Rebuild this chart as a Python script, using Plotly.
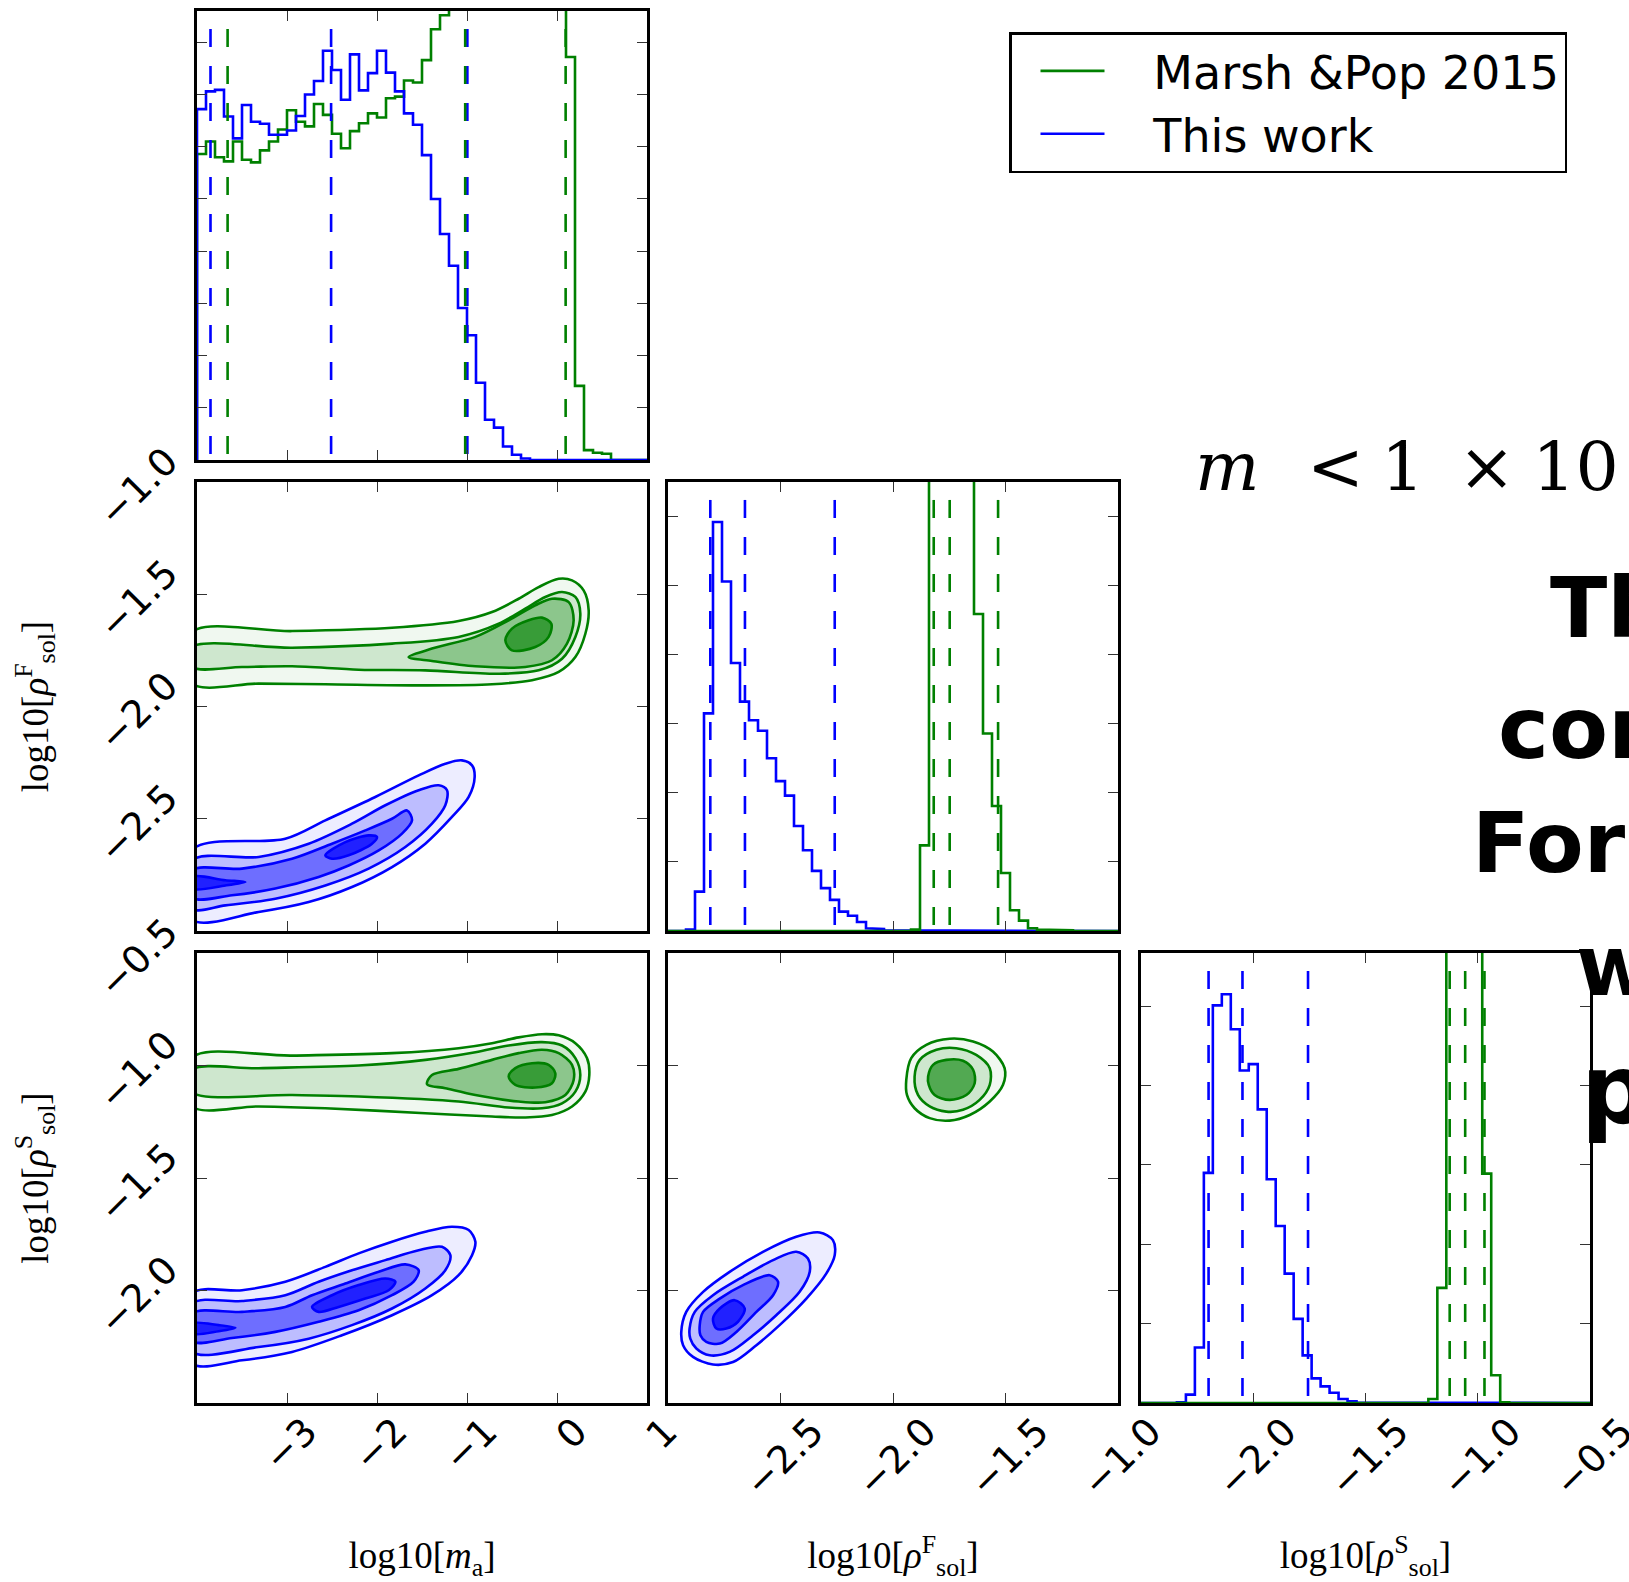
import numpy as np
import plotly.graph_objects as go

GREEN = "#008000"
BLUE = "#0000ff"

# ---------------- 1D marginal histograms (arbitrary count units) ----------------
ma_edges = np.round(np.linspace(-4.0, 1.0, 51), 4)
ma_this_work = [6.72, 7.06, 7.09, 6.58, 6.16, 6.80, 6.48, 6.44, 6.23, 6.23,
                6.31, 6.59, 7.00, 7.26, 7.84, 7.47, 6.90, 7.77, 7.08, 7.41,
                7.84, 7.42, 7.06, 6.64, 6.42, 5.84, 5.00, 4.33, 3.72, 2.91,
                2.39, 1.48, 0.77, 0.62, 0.26, 0.10, 0.03, 0, 0, 0,
                0, 0, 0, 0, 0, 0, 0, 0, 0, 0]
ma_marsh_pop = [5.86, 6.10, 5.80, 5.72, 6.10, 5.75, 5.70, 5.93, 6.10, 6.33,
                6.70, 6.48, 6.39, 6.82, 6.61, 6.25, 5.97, 6.30, 6.45, 6.64,
                6.56, 6.93, 6.96, 7.27, 7.23, 7.66, 8.25, 8.52, 9.2, 10.0,
                10.8, 11.5, 12.2, 12.8, 13.3, 13.7, 14.0, 14.1, 13.9, 13.4,
                12.6, 7.72, 1.42, 0.19, 0.14, 0.12, 0, 0, 0, 0]

rf_edges = np.round(np.linspace(-3.0, -1.0, 51), 4)
rf_this_work = [0, 0, 0.02, 0.57, 3.15, 5.92, 5.06, 3.88, 3.32, 3.05,
                2.90, 2.50, 2.17, 1.96, 1.52, 1.17, 0.87, 0.62, 0.45, 0.28,
                0.22, 0.13, 0.04, 0.03, 0.01, 0.005, 0, 0, 0, 0,
                0, 0, 0, 0, 0, 0, 0, 0, 0, 0,
                0, 0, 0, 0, 0, 0, 0, 0, 0, 0]
rf_marsh_pop = [0, 0, 0, 0, 0, 0, 0, 0, 0, 0,
                0, 0, 0, 0, 0, 0, 0, 0, 0, 0,
                0, 0, 0, 0, 0, 0, 0, 0.02, 1.24, 8.5,
                12.5, 14.0, 12.0, 8.8, 4.59, 2.86, 1.81, 0.84, 0.30, 0.15,
                0.04, 0.02, 0.02, 0.015, 0.01, 0, 0, 0, 0, 0]

rs_edges = np.round(np.linspace(-2.5, -0.5, 51), 4)
rs_this_work = [0, 0, 0, 0, 0.01, 0.105, 0.70, 2.90, 5.01, 5.15,
                4.71, 4.19, 4.27, 3.70, 2.82, 2.23, 1.63, 1.06, 0.60, 0.31,
                0.21, 0.13, 0.05, 0.02, 0.005, 0, 0, 0, 0, 0,
                0, 0, 0, 0, 0, 0, 0, 0, 0, 0,
                0, 0, 0, 0, 0, 0, 0, 0, 0, 0]
rs_marsh_pop = [0, 0, 0, 0, 0, 0, 0, 0, 0, 0,
                0, 0, 0, 0, 0, 0, 0, 0, 0, 0,
                0, 0, 0, 0, 0, 0, 0, 0, 0, 0,
                0, 0, 0.05, 1.45, 9.0, 15.0, 15.5, 9.5, 2.89, 0.35,
                0.01, 0, 0, 0, 0, 0, 0, 0, 0, 0]

# quantile markers (dashed lines)
ma_q_this = [-3.85, -2.51, -0.996]
ma_q_marsh = [-3.66, -1.02, 0.096]
rf_q_this = [-2.812, -2.658, -2.259]
rf_q_marsh = [-1.819, -1.748, -1.533]
rs_q_this = [-2.199, -2.048, -1.756]
rs_q_marsh = [-1.125, -1.056, -0.970]

# ---------------- 2D credible contours ----------------
# panel m_a vs rho_F
ma_rf_marsh_x = [
    [-4.05, -2.944, -1.833, -1.093, -0.722, -0.426, -0.204, 0.019, 0.167, 0.296, 0.352, 0.315, 0.204, 0.019, -0.278, -0.722, -1.463, -2.574, -3.315, -4.05],
    [-4.05, -2.944, -1.833, -1.093, -0.648, -0.352, -0.130, 0.056, 0.204, 0.259, 0.204, 0.056, -0.204, -0.648, -1.463, -2.204, -2.944, -3.5, -4.05],
    [-1.648, -1.389, -0.907, -0.537, -0.241, -0.056, 0.130, 0.185, 0.111, -0.056, -0.352, -0.907, -1.389],
    [-0.574, -0.5, -0.315, -0.167, -0.063, -0.093, -0.241, -0.5],
]
ma_rf_marsh_y = [
    [-1.668, -1.664, -1.649, -1.619, -1.579, -1.520, -1.468, -1.431, -1.438, -1.483, -1.572, -1.676, -1.780, -1.846, -1.883, -1.901, -1.906, -1.901, -1.898, -1.898],
    [-1.735, -1.738, -1.720, -1.690, -1.631, -1.564, -1.512, -1.490, -1.512, -1.586, -1.690, -1.787, -1.839, -1.854, -1.839, -1.836, -1.821, -1.824, -1.824],
    [-1.780, -1.742, -1.690, -1.616, -1.549, -1.520, -1.535, -1.616, -1.720, -1.794, -1.824, -1.821, -1.797],
    [-1.705, -1.653, -1.616, -1.604, -1.631, -1.690, -1.735, -1.750],
]
ma_rf_this_x = [
    [-4.05, -3.019, -2.574, -2.019, -1.537, -1.241, -1.056, -0.944, -0.915, -0.981, -1.167, -1.463, -1.833, -2.278, -2.759, -3.315, -4.05],
    [-4.05, -3.315, -2.759, -2.278, -1.907, -1.537, -1.315, -1.222, -1.241, -1.389, -1.685, -2.093, -2.574, -3.130, -3.685, -4.05],
    [-4.05, -3.5, -2.944, -2.5, -2.130, -1.833, -1.667, -1.611, -1.722, -1.981, -2.315, -2.648, -3.130, -3.611, -4.05],
    [-2.574, -2.352, -2.093, -2.0, -2.056, -2.315, -2.5],
    [-4.05, -3.685, -3.463, -3.685, -4.05],
]
ma_rf_this_y = [
    [-2.638, -2.589, -2.507, -2.403, -2.307, -2.255, -2.240, -2.262, -2.314, -2.403, -2.492, -2.611, -2.715, -2.804, -2.871, -2.915, -2.950],
    [-2.685, -2.670, -2.611, -2.522, -2.440, -2.373, -2.351, -2.373, -2.440, -2.522, -2.626, -2.722, -2.797, -2.856, -2.886, -2.901],
    [-2.730, -2.722, -2.678, -2.611, -2.552, -2.500, -2.463, -2.507, -2.566, -2.641, -2.708, -2.759, -2.811, -2.841, -2.852],
    [-2.663, -2.604, -2.574, -2.581, -2.611, -2.663, -2.678],
    [-2.759, -2.774, -2.782, -2.797, -2.811],
]

# panel m_a vs rho_S
ma_rs_marsh_x = [
    [-4.05, -2.944, -1.833, -1.093, -0.722, -0.426, -0.167, 0.019, 0.204, 0.333, 0.359, 0.315, 0.167, -0.056, -0.352, -0.722, -1.463, -2.574, -3.315, -4.05],
    [-4.05, -3.315, -2.204, -1.463, -0.907, -0.537, -0.167, 0.056, 0.204, 0.259, 0.204, 0.056, -0.167, -0.537, -1.093, -2.204, -2.944, -4.05],
    [-1.444, -1.389, -1.093, -0.722, -0.426, -0.167, 0.019, 0.167, 0.185, 0.093, -0.130, -0.426, -0.907, -1.241],
    [-0.537, -0.463, -0.278, -0.093, -0.019, -0.056, -0.241, -0.463],
]
ma_rs_marsh_y = [
    [-0.964, -0.956, -0.945, -0.923, -0.901, -0.875, -0.861, -0.866, -0.901, -0.967, -1.042, -1.116, -1.182, -1.220, -1.231, -1.227, -1.212, -1.190, -1.182, -1.182],
    [-1.019, -1.012, -1.0, -0.975, -0.941, -0.911, -0.896, -0.911, -0.967, -1.042, -1.116, -1.168, -1.190, -1.187, -1.160, -1.138, -1.131, -1.119],
    [-1.083, -1.042, -1.015, -0.975, -0.945, -0.930, -0.945, -0.997, -1.064, -1.131, -1.163, -1.160, -1.131, -1.101],
    [-1.049, -1.012, -0.990, -0.997, -1.034, -1.079, -1.098, -1.086],
]
ma_rs_this_x = [
    [-4.05, -3.5, -3.019, -2.574, -2.204, -1.833, -1.463, -1.167, -0.981, -0.907, -0.944, -1.093, -1.389, -1.833, -2.389, -2.944, -3.5, -4.05],
    [-4.05, -3.5, -3.019, -2.648, -2.278, -1.907, -1.537, -1.278, -1.185, -1.241, -1.463, -1.833, -2.278, -2.759, -3.315, -4.05],
    [-4.05, -3.5, -3.019, -2.722, -2.352, -1.981, -1.685, -1.537, -1.593, -1.833, -2.204, -2.648, -3.130, -3.611, -4.05],
    [-2.722, -2.5, -2.204, -1.907, -1.796, -1.870, -2.130, -2.426, -2.648],
    [-4.05, -3.759, -3.574, -3.759, -4.05],
]
ma_rs_this_y = [
    [-2.013, -1.999, -1.961, -1.895, -1.835, -1.783, -1.739, -1.717, -1.731, -1.783, -1.843, -1.932, -2.021, -2.110, -2.199, -2.273, -2.310, -2.325],
    [-2.058, -2.047, -2.021, -1.961, -1.910, -1.865, -1.821, -1.806, -1.843, -1.910, -1.991, -2.080, -2.154, -2.214, -2.251, -2.273],
    [-2.102, -2.095, -2.073, -2.021, -1.969, -1.917, -1.884, -1.910, -1.961, -2.021, -2.088, -2.139, -2.184, -2.211, -2.226],
    [-2.073, -2.021, -1.976, -1.947, -1.961, -1.999, -2.036, -2.073, -2.095],
    [-2.147, -2.154, -2.166, -2.181, -2.191],
]

# panel rho_F vs rho_S
rf_rs_marsh_x = [
    [-1.941, -1.919, -1.852, -1.748, -1.644, -1.556, -1.504, -1.511, -1.570, -1.659, -1.748, -1.837, -1.904, -1.938],
    [-1.904, -1.881, -1.807, -1.719, -1.630, -1.570, -1.570, -1.615, -1.689, -1.763, -1.837, -1.889],
    [-1.844, -1.822, -1.763, -1.689, -1.644, -1.637, -1.674, -1.748, -1.815, -1.841],
]
rf_rs_marsh_y = [
    [-1.064, -0.967, -0.908, -0.881, -0.893, -0.938, -1.012, -1.086, -1.160, -1.220, -1.245, -1.234, -1.190, -1.131],
    [-1.049, -0.975, -0.930, -0.923, -0.953, -1.012, -1.086, -1.153, -1.197, -1.205, -1.182, -1.131],
    [-1.049, -0.997, -0.975, -0.979, -1.019, -1.079, -1.131, -1.153, -1.131, -1.086],
]
rf_rs_this_x = [
    [-2.941, -2.919, -2.844, -2.726, -2.578, -2.430, -2.326, -2.267, -2.259, -2.296, -2.385, -2.504, -2.607, -2.711, -2.8, -2.889, -2.933],
    [-2.904, -2.881, -2.8, -2.667, -2.533, -2.430, -2.378, -2.370, -2.415, -2.519, -2.622, -2.726, -2.815, -2.874, -2.901],
    [-2.859, -2.844, -2.770, -2.667, -2.548, -2.511, -2.533, -2.607, -2.696, -2.770, -2.830, -2.856],
    [-2.8, -2.770, -2.704, -2.659, -2.689, -2.741, -2.785],
]
rf_rs_this_y = [
    [-2.184, -2.095, -2.006, -1.917, -1.828, -1.761, -1.742, -1.776, -1.843, -1.924, -2.036, -2.154, -2.243, -2.318, -2.329, -2.295, -2.243],
    [-2.169, -2.095, -2.021, -1.939, -1.865, -1.828, -1.858, -1.917, -2.006, -2.110, -2.199, -2.273, -2.288, -2.258, -2.214],
    [-2.154, -2.095, -2.036, -1.976, -1.932, -1.961, -2.021, -2.095, -2.184, -2.236, -2.228, -2.199],
    [-2.125, -2.080, -2.043, -2.080, -2.139, -2.169, -2.169],
]

# contour level index of every polygon (0 = outermost)
ma_rf_marsh_lv = [0, 1, 2, 3]
ma_rf_this_lv = [0, 1, 2, 3, 3]
ma_rs_marsh_lv = [0, 1, 2, 3]
ma_rs_this_lv = [0, 1, 2, 3, 3]
rf_rs_marsh_lv = [0, 1, 3]
rf_rs_this_lv = [0, 1, 2, 3]

# tick labels
ma_ticks = [-3, -2, -1, 0, 1]
rf_ticks = [-2.5, -2.0, -1.5, -1.0]
rs_ticks = [-2.0, -1.5, -1.0, -0.5]

# legend labels
NAME_MARSH = "Marsh &Pop 2015"
NAME_THIS = "This work"

# ---------------- figure ----------------
W, H = 1629, 1582
fig = go.Figure()

GREEN_FILLS = ["rgba(0,128,0,0.06)", "rgba(0,128,0,0.14)", "rgba(0,128,0,0.32)", "rgba(0,128,0,0.6)"]
BLUE_FILLS = ["rgba(0,0,255,0.07)", "rgba(0,0,255,0.2)", "rgba(0,0,255,0.42)", "rgba(0,0,255,0.7)"]
LEGEND_PAD = "\u00a0\u00a0\u00a0"   # gap between legend line sample and its label


def step_xy(edges, counts):
    xs, ys = [float(edges[0])], [0.0]
    for i, c in enumerate(counts):
        xs += [float(edges[i]), float(edges[i + 1])]
        ys += [c, c]
    xs.append(float(edges[-1]))
    ys.append(0.0)
    return xs, ys


def add_hist(edges, counts, color, name, xa, ya, show):
    xs, ys = step_xy(edges, counts)
    fig.add_trace(go.Scatter(x=xs, y=ys, mode="lines", name=LEGEND_PAD + name,
                             line=dict(color=color, width=2.6),
                             xaxis=xa, yaxis=ya, showlegend=show, hoverinfo="skip"))


def add_quantiles(qs, color, top, xa, ya):
    for q in qs:
        fig.add_trace(go.Scatter(x=[q, q], y=[top, 0], mode="lines",
                                 line=dict(color=color, width=2.6, dash="18px,19px"),
                                 xaxis=xa, yaxis=ya, showlegend=False, hoverinfo="skip"))


def add_contours(xs_list, ys_list, levels, color, fills, xa, ya):
    for xs, ys, lv in zip(xs_list, ys_list, levels):
        fig.add_trace(go.Scatter(x=list(xs) + [xs[0]], y=list(ys) + [ys[0]], mode="lines",
                                 line=dict(color=color, width=2.6, shape="spline", smoothing=0.9),
                                 fill="toself", fillcolor=fills[lv],
                                 xaxis=xa, yaxis=ya, showlegend=False, hoverinfo="skip"))


# y-ranges of the 1D panels
top1, top3, top6 = 8.6, 6.5, 5.67

# panel (0,0): m_a histogram
add_hist(ma_edges, ma_marsh_pop, GREEN, NAME_MARSH, "x", "y", True)
add_hist(ma_edges, ma_this_work, BLUE, NAME_THIS, "x", "y", True)
add_quantiles(ma_q_this, BLUE, 0.96 * top1, "x", "y")
add_quantiles(ma_q_marsh, GREEN, 0.96 * top1, "x", "y")

# panel (1,0): m_a vs rho_F
add_contours(ma_rf_marsh_x, ma_rf_marsh_y, ma_rf_marsh_lv, GREEN, GREEN_FILLS, "x2", "y2")
add_contours(ma_rf_this_x, ma_rf_this_y, ma_rf_this_lv, BLUE, BLUE_FILLS, "x2", "y2")

# panel (1,1): rho_F histogram
add_hist(rf_edges, rf_this_work, BLUE, NAME_THIS, "x3", "y3", False)
add_hist(rf_edges, rf_marsh_pop, GREEN, NAME_MARSH, "x3", "y3", False)
add_quantiles(rf_q_this, BLUE, 0.96 * top3, "x3", "y3")
add_quantiles(rf_q_marsh, GREEN, 0.96 * top3, "x3", "y3")

# panel (2,0): m_a vs rho_S
add_contours(ma_rs_marsh_x, ma_rs_marsh_y, ma_rs_marsh_lv, GREEN, GREEN_FILLS, "x4", "y4")
add_contours(ma_rs_this_x, ma_rs_this_y, ma_rs_this_lv, BLUE, BLUE_FILLS, "x4", "y4")

# panel (2,1): rho_F vs rho_S
add_contours(rf_rs_marsh_x, rf_rs_marsh_y, rf_rs_marsh_lv, GREEN, GREEN_FILLS, "x5", "y5")
add_contours(rf_rs_this_x, rf_rs_this_y, rf_rs_this_lv, BLUE, BLUE_FILLS, "x5", "y5")

# panel (2,2): rho_S histogram
add_hist(rs_edges, rs_this_work, BLUE, NAME_THIS, "x6", "y6", False)
add_hist(rs_edges, rs_marsh_pop, GREEN, NAME_MARSH, "x6", "y6", False)
add_quantiles(rs_q_this, BLUE, 0.96 * top6, "x6", "y6")
add_quantiles(rs_q_marsh, GREEN, 0.96 * top6, "x6", "y6")

# ---------------- axes ----------------
cols = [(197 / W, 647 / W), (668 / W, 1118 / W), (1141 / W, 1590 / W)]
rows = [(1 - 460 / H, 1 - 11 / H), (1 - 931 / H, 1 - 482 / H), (1 - 1403 / H, 1 - 953 / H)]

TICKFONT = dict(family="DejaVu Sans", size=38, color="black")
TITLEFONT = dict(family="Liberation Serif", size=37, color="black")
base = dict(showline=True, linecolor="black", linewidth=2.6, mirror="ticks",
            ticks="inside", ticklen=10, tickwidth=1.3, tickcolor="#333",
            showgrid=False, zeroline=False, fixedrange=True, tickfont=TICKFONT,
            automargin=False, ticklabeloverflow="allow")

YSHIFT = -26


def xax(dom, rng, tv, anchor, labels=False, title=None, fmt=None, shift=32, standoff=48):
    d = dict(base, domain=list(dom), range=rng, tickvals=tv, anchor=anchor,
             showticklabels=labels, tickangle=-45)
    if fmt:
        d["tickformat"] = fmt
    if labels:
        d["ticklabelshift"] = shift
        d["ticklabelstandoff"] = -12
    if title:
        d["title"] = dict(text=title, font=TITLEFONT, standoff=standoff)
    return d


def yax(dom, rng, tv, anchor, labels=False, title=None, fmt=None):
    d = dict(base, domain=list(dom), range=rng, tickvals=tv, anchor=anchor,
             showticklabels=labels, tickangle=-45)
    if fmt:
        d["tickformat"] = fmt
    if labels:
        d["ticklabelshift"] = YSHIFT
        d["ticklabelstandoff"] = 20
    if title:
        d["title"] = dict(text=title, font=TITLEFONT, standoff=31)
    return d


T_MA = "log10[<i>m</i><sub>a</sub>]"
T_RF = "log10[<i>ρ</i><sup>F</sup><sub>sol</sub>]"
T_RS = "log10[<i>ρ</i><sup>S</sup><sub>sol</sub>]"

fig.update_layout(
    xaxis=xax(cols[0], [-4, 1], ma_ticks, "y"),
    yaxis=yax(rows[0], [0, top1], list(range(1, 9)), "x"),
    xaxis2=xax(cols[0], [-4, 1], ma_ticks, "y2"),
    yaxis2=yax(rows[1], [-3, -1], rf_ticks, "x2", labels=True, title=T_RF, fmt=".1f"),
    xaxis3=xax(cols[1], [-3, -1], rf_ticks, "y3"),
    yaxis3=yax(rows[1], [0, top3], list(range(1, 7)), "x3"),
    xaxis4=xax(cols[0], [-4, 1], ma_ticks, "y4", labels=True, title=T_MA, shift=19, standoff=72),
    yaxis4=yax(rows[2], [-2.5, -0.5], rs_ticks, "x4", labels=True, title=T_RS, fmt=".1f"),
    xaxis5=xax(cols[1], [-3, -1], rf_ticks, "y5", labels=True, title=T_RF, fmt=".1f"),
    yaxis5=yax(rows[2], [-2.5, -0.5], rs_ticks, "x5"),
    xaxis6=xax(cols[2], [-2.5, -0.5], rs_ticks, "y6", labels=True, title=T_RS, fmt=".1f"),
    yaxis6=yax(rows[2], [0, top6], list(range(1, 6)), "x6"),
)

SERIF_TXT = "<i>m</i>\u2002\u2009&lt;\u20051\u2002×\u200510"

fig.update_layout(
    width=W, height=H,
    margin=dict(l=0, r=0, t=0, b=0, autoexpand=False),
    paper_bgcolor="white", plot_bgcolor="white",
    showlegend=True,
    legend=dict(x=1009 / W, y=1 - 32 / H, xanchor="left", yanchor="top",
                bgcolor="white", bordercolor="black", borderwidth=2.5,
                font=dict(family="DejaVu Sans", size=46, color="black"),
                itemwidth=64, indentation=24, tracegroupgap=0),
    annotations=[
        dict(text=SERIF_TXT, x=1193 / W, y=1 - 466 / H, xref="paper", yref="paper",
             xanchor="left", yanchor="middle", showarrow=False,
             font=dict(family="DejaVu Serif", size=68, color="black")),
        dict(text="<b>Th</b>", x=1548 / W, y=1 - 608 / H, xref="paper", yref="paper",
             xanchor="left", yanchor="middle", showarrow=False,
             font=dict(family="DejaVu Sans", size=84, color="black")),
        dict(text="<b>cor</b>", x=1496 / W, y=1 - 728 / H, xref="paper", yref="paper",
             xanchor="left", yanchor="middle", showarrow=False,
             font=dict(family="DejaVu Sans", size=86, color="black")),
        dict(text="<b>For</b>", x=1470 / W, y=1 - 843 / H, xref="paper", yref="paper",
             xanchor="left", yanchor="middle", showarrow=False,
             font=dict(family="DejaVu Sans", size=84, color="black")),
        dict(text="<b>w</b>", x=1574 / W, y=1 - 966 / H, xref="paper", yref="paper",
             xanchor="left", yanchor="middle", showarrow=False,
             font=dict(family="DejaVu Sans", size=84, color="black")),
        dict(text="<b>p</b>", x=1579 / W, y=1 - 1090 / H, xref="paper", yref="paper",
             xanchor="left", yanchor="middle", showarrow=False,
             font=dict(family="DejaVu Sans", size=96, color="black")),
    ],
)

fig.write_html("out.html")
